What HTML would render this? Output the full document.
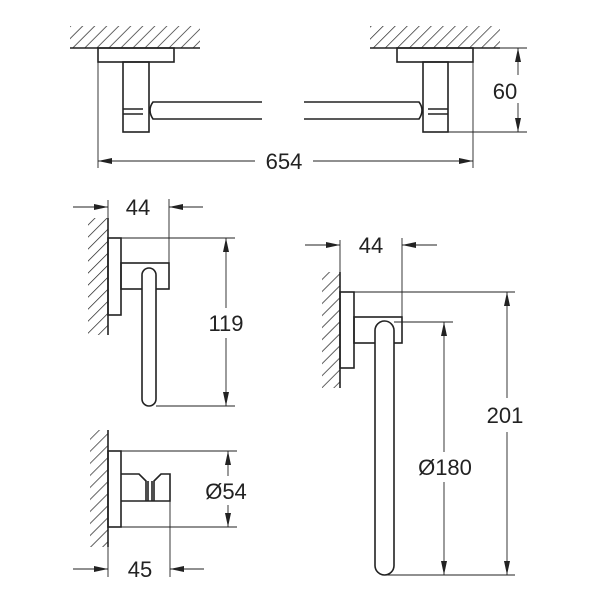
<!DOCTYPE html>
<html><head><meta charset="utf-8"><style>html,body{margin:0;padding:0;background:#fff}svg{display:block}text{font-family:"Liberation Sans",sans-serif;font-size:22px;fill:#222}</style></head>
<body>
<svg width="600" height="600" viewBox="0 0 600 600" xmlns="http://www.w3.org/2000/svg">
<defs>
<marker id="a" viewBox="0 0 14 6" refX="14" refY="3" markerWidth="14" markerHeight="6" markerUnits="userSpaceOnUse" orient="auto-start-reverse"><path d="M0,0L14,3L0,6z" fill="#222"/></marker>
<pattern id="h" width="8.5" height="8.5" patternUnits="userSpaceOnUse" patternTransform="rotate(45)"><line x1="0" y1="0" x2="0" y2="8.5" stroke="#222" stroke-width="1.4"/></pattern>
</defs>
<g stroke="#222" stroke-width="1.6" fill="none">
<rect x="70" y="26" width="130" height="22" fill="url(#h)" stroke="none"/>
<rect x="370" y="26" width="130" height="22" fill="url(#h)" stroke="none"/>
<line x1="70" y1="48" x2="200" y2="48"/><line x1="370" y1="48" x2="500" y2="48"/>
<rect x="98" y="48" width="76" height="14"/>
<rect x="123" y="62" width="26" height="70"/>
<line x1="123" y1="109" x2="143" y2="109"/><line x1="123" y1="114" x2="143" y2="114"/>
<path d="M262,102H153Q147,110 153,119H262"/>
<rect x="397" y="48" width="76" height="14"/>
<rect x="423" y="62" width="25" height="70"/>
<line x1="428" y1="109" x2="448" y2="109"/><line x1="428" y1="114" x2="448" y2="114"/>
<path d="M304,102H419Q425,110 419,119H304"/>
</g>
<g stroke="#222" stroke-width="0.9" fill="none">
<line x1="98" y1="62" x2="98" y2="168"/><line x1="473" y1="62" x2="473" y2="168"/>
<line x1="98" y1="161" x2="255" y2="161" marker-start="url(#a)"/>
<line x1="313" y1="161" x2="473" y2="161" marker-end="url(#a)"/>
<line x1="473" y1="48" x2="527" y2="48"/><line x1="448" y1="132" x2="527" y2="132"/>
<line x1="518" y1="48" x2="518" y2="75" marker-start="url(#a)"/>
<line x1="518" y1="103" x2="518" y2="132" marker-end="url(#a)"/>
</g>
<text x="284" y="169" text-anchor="middle">654</text>
<text x="505" y="99" text-anchor="middle">60</text>

<rect x="88" y="218" width="20" height="117" fill="url(#h)"/>
<g stroke="#222" stroke-width="1.6" fill="none">
<line x1="108" y1="218" x2="108" y2="335"/>
<rect x="108" y="238" width="13" height="77"/>
<rect x="121" y="263" width="48" height="26"/>
<rect x="142" y="268" width="14" height="138" rx="7" fill="#fff"/>
</g>
<g stroke="#222" stroke-width="0.9" fill="none">
<line x1="108" y1="200" x2="108" y2="238"/><line x1="169" y1="199" x2="169" y2="263"/>
<line x1="73" y1="207" x2="108" y2="207" marker-end="url(#a)"/>
<line x1="203" y1="207" x2="169" y2="207" marker-end="url(#a)"/>
<line x1="121" y1="238" x2="235" y2="238"/><line x1="156" y1="406" x2="235" y2="406"/>
<line x1="226" y1="238" x2="226" y2="308" marker-start="url(#a)"/>
<line x1="226" y1="338" x2="226" y2="406" marker-end="url(#a)"/>
</g>
<text x="138" y="215" text-anchor="middle">44</text>
<text x="226" y="331" text-anchor="middle">119</text>

<rect x="90" y="430" width="18" height="117" fill="url(#h)"/>
<g stroke="#222" stroke-width="1.6" fill="none">
<line x1="108" y1="430" x2="108" y2="547"/>
<rect x="108" y="451" width="13" height="76"/>
<path d="M121,474H139L146,481V501M154,501V481L161,474H170V501H121"/>
<line x1="148" y1="481" x2="148" y2="501"/><line x1="152" y1="481" x2="152" y2="501"/>
</g>
<g stroke="#222" stroke-width="0.9" fill="none">
<line x1="121" y1="451" x2="237" y2="451"/><line x1="121" y1="527" x2="237" y2="527"/>
<line x1="228" y1="451" x2="228" y2="476" marker-start="url(#a)"/>
<line x1="228" y1="505" x2="228" y2="527" marker-end="url(#a)"/>
<line x1="108" y1="527" x2="108" y2="577"/><line x1="170" y1="501" x2="170" y2="577"/>
<line x1="73" y1="569" x2="108" y2="569" marker-end="url(#a)"/>
<line x1="204" y1="569" x2="170" y2="569" marker-end="url(#a)"/>
</g>
<text x="226" y="499" text-anchor="middle">Ø54</text>
<text x="140" y="577" text-anchor="middle">45</text>

<rect x="322" y="272" width="18" height="116" fill="url(#h)"/>
<g stroke="#222" stroke-width="1.6" fill="none">
<line x1="340" y1="272" x2="340" y2="388"/>
<rect x="340" y="292" width="14" height="76"/>
<rect x="354" y="317" width="48" height="26"/>
<rect x="375" y="321" width="19" height="254" rx="9.5" fill="#fff"/>
</g>
<g stroke="#222" stroke-width="0.9" fill="none">
<line x1="340" y1="240" x2="340" y2="292"/><line x1="402" y1="238" x2="402" y2="317"/>
<line x1="305" y1="245" x2="340" y2="245" marker-end="url(#a)"/>
<line x1="437" y1="245" x2="402" y2="245" marker-end="url(#a)"/>
<line x1="354" y1="292" x2="515" y2="292"/><line x1="384" y1="575" x2="515" y2="575"/>
<line x1="507" y1="292" x2="507" y2="398" marker-start="url(#a)"/>
<line x1="507" y1="432" x2="507" y2="575" marker-end="url(#a)"/>
<line x1="394" y1="322" x2="453" y2="322"/>
<line x1="444" y1="322" x2="444" y2="452" marker-start="url(#a)"/>
<line x1="444" y1="482" x2="444" y2="575" marker-end="url(#a)"/>
</g>
<text x="371" y="253" text-anchor="middle">44</text>
<text x="505" y="423" text-anchor="middle">201</text>
<text x="445" y="475" text-anchor="middle">Ø180</text>
</svg>
</body></html>
